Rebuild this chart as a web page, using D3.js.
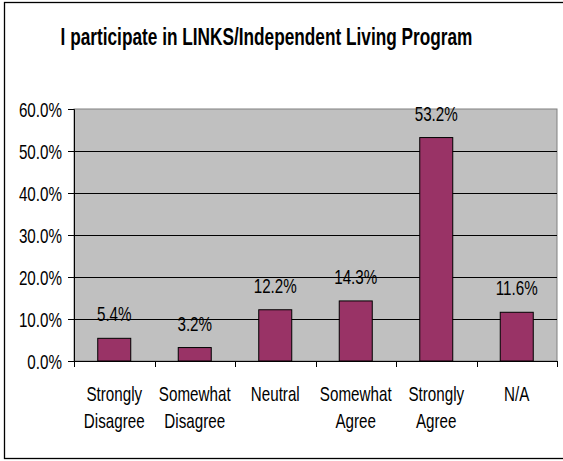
<!DOCTYPE html>
<html>
<head>
<meta charset="utf-8">
<script src="https://cdn.jsdelivr.net/npm/d3@7"></script>
<style>
  html, body { margin: 0; padding: 0; background: #fff; }
  svg { display: block; }
  text { font-family: "Liberation Sans", Arial, sans-serif; fill: #000; }
</style>
</head>
<body>
<svg id="chart" width="563" height="461"></svg>
<script>
const title = "I participate in LINKS/Independent Living Program";
const categories = [["Strongly", "Disagree"], ["Somewhat", "Disagree"], ["Neutral"], ["Somewhat", "Agree"], ["Strongly", "Agree"], ["N/A"]];
const values = [0.054, 0.032, 0.122, 0.143, 0.532, 0.116];
const yTicks = [0, 0.1, 0.2, 0.3, 0.4, 0.5, 0.6];

const svg = d3.select("#chart");
const W = 563, H = 461;
const plot = { left: 74, right: 557, top: 109, bottom: 361 };
const SX = 0.76;        // condensed look of the original font
const FS = 20;

// outer frame
svg.append("rect")
  .attr("x", 4.5).attr("y", 2.5)
  .attr("width", W + 10).attr("height", 456)
  .attr("fill", "#fff").attr("stroke", "#000").attr("stroke-width", 1.3);

// title
svg.append("text")
  .attr("transform", `translate(266.5,45) scale(0.75,1)`)
  .attr("text-anchor", "middle")
  .attr("font-size", 23).attr("font-weight", "bold")
  .text(title);

const idx = categories.map((d, i) => i);
const x = d3.scaleBand().domain(idx).range([plot.left, plot.right])
  .paddingInner(0.59).paddingOuter(0.295);
const y = d3.scaleLinear().domain([0, 0.6]).range([plot.bottom, plot.top]);

// plot background
svg.append("rect")
  .attr("x", plot.left).attr("y", plot.top)
  .attr("width", plot.right - plot.left).attr("height", plot.bottom - plot.top)
  .attr("fill", "#c0c0c0").attr("stroke", "#808080").attr("stroke-width", 1);

// gridlines
svg.append("g").selectAll("line")
  .data(yTicks.filter(t => t > 0 && t < 0.6))
  .join("line")
  .attr("x1", plot.left).attr("x2", plot.right)
  .attr("y1", d => Math.round(y(d)) + 0.5).attr("y2", d => Math.round(y(d)) + 0.5)
  .attr("stroke", "#000").attr("stroke-width", 1);

// y axis
const yAxis = d3.axisLeft(y).tickValues(yTicks).tickFormat(d3.format(".1%")).tickSize(6).tickPadding(6);
const gy = svg.append("g").attr("transform", `translate(${plot.left},0)`).call(yAxis);
gy.select(".domain").attr("stroke", "#000");
gy.selectAll(".tick line").attr("stroke", "#000");
gy.selectAll(".tick text")
  .attr("font-size", FS).attr("font-family", null).attr("fill", "#000")
  .attr("x", 0).attr("dy", "0.35em")
  .attr("transform", `translate(-12,0) scale(${SX},1)`);

// x axis
const step = x.step();
const bounds = idx.map(i => x(i) - x.paddingInner() * step / 2).concat([plot.right]);
svg.append("line")
  .attr("x1", plot.left).attr("x2", plot.right)
  .attr("y1", plot.bottom + 0.5).attr("y2", plot.bottom + 0.5)
  .attr("stroke", "#000");
svg.append("g").selectAll("line").data(bounds).join("line")
  .attr("x1", d => Math.round(d) + 0.5).attr("x2", d => Math.round(d) + 0.5)
  .attr("y1", plot.bottom).attr("y2", plot.bottom + 6)
  .attr("stroke", "#000");

// bars
svg.append("g").selectAll("rect").data(values).join("rect")
  .attr("x", (d, i) => x(i)).attr("width", x.bandwidth())
  .attr("y", d => y(d)).attr("height", d => y(0) - y(d))
  .attr("fill", "#993366").attr("stroke", "#000").attr("stroke-width", 1);

// value labels
svg.append("g").selectAll("text").data(values).join("text")
  .attr("transform", (d, i) => `translate(${x(i) + x.bandwidth() / 2},${y(d) - 17}) scale(${SX},1)`)
  .attr("text-anchor", "middle")
  .attr("font-size", FS)
  .text(d => d3.format(".1%")(d));

// category labels
const cl = svg.append("g").selectAll("text").data(categories).join("text")
  .attr("transform", (d, i) => `translate(${x(i) + x.bandwidth() / 2},401) scale(${SX},1)`)
  .attr("text-anchor", "middle")
  .attr("font-size", FS);
cl.selectAll("tspan").data(d => d).join("tspan")
  .attr("x", 0)
  .attr("dy", (d, i) => i === 0 ? 0 : 27)
  .text(d => d);
</script>
</body>
</html>
